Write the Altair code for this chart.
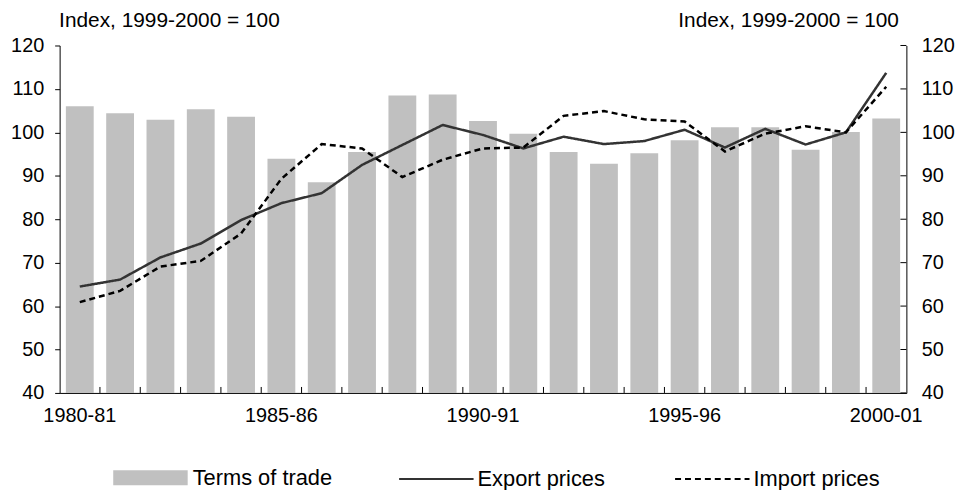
import altair as alt
import pandas as pd

years = ["1980-81", "1981-82", "1982-83", "1983-84", "1984-85", "1985-86", "1986-87",
         "1987-88", "1988-89", "1989-90", "1990-91", "1991-92", "1992-93", "1993-94",
         "1994-95", "1995-96", "1996-97", "1997-98", "1998-99", "1999-00", "2000-01"]
terms_of_trade = [106.0, 104.4, 102.9, 105.3, 103.6, 93.9, 88.5, 95.5, 108.5, 108.7, 102.6,
                  99.7, 95.5, 92.8, 95.2, 98.2, 101.2, 101.2, 96.0, 100.1, 103.2]
export_prices = [64.5, 66.1, 71.2, 74.4, 79.8, 83.7, 86.0, 92.5, 97.1, 101.7, 99.4,
                 96.3, 99.0, 97.3, 98.0, 100.6, 96.5, 100.8, 97.2, 100.0, 113.7]
import_prices = [60.9, 63.5, 69.1, 70.4, 76.7, 89.3, 97.3, 96.3, 89.7, 93.7, 96.3,
                 96.5, 103.8, 104.9, 103.0, 102.5, 95.6, 99.7, 101.4, 100.0, 110.5]
x_labels = ["1980-81", "1985-86", "1990-91", "1995-96", "2000-01"]
y_ticks = [40, 50, 60, 70, 80, 90, 100, 110, 120]
series_names = ["Terms of trade", "Export prices", "Import prices"]

W, H = 853, 350
FONT = "Liberation Sans"
FS = 21
LFS = 22
STEP = W / len(years)
LEG_Y = 398

bars_df = pd.DataFrame({"year": years, "value": terms_of_trade, "bar_series": series_names[0]})
lines_df = pd.concat([
    pd.DataFrame({"year": years, "value": export_prices, "line_series": series_names[1]}),
    pd.DataFrame({"year": years, "value": import_prices, "line_series": series_names[2]}),
])
xtick_df = pd.DataFrame({"year": years[1:]})
ytick_df = pd.DataFrame({"v": y_ticks})

xscale = alt.Scale(domain=years, paddingInner=0.31, paddingOuter=0.155)
ydom = [40, 120]


def yscale():
    return alt.Scale(domain=ydom, nice=False, zero=False)


x_enc = alt.X("year:N", scale=xscale, sort=years, title=None,
              axis=alt.Axis(values=x_labels, ticks=False, tickSize=0, labelAngle=0,
                            labelPadding=13, labelFontSize=FS - 1, labelFont=FONT,
                            labelColor="black", domainColor="black", domainWidth=1,
                            grid=False))

bars = alt.Chart(bars_df).mark_bar().encode(
    x=x_enc,
    y=alt.Y("value:Q", scale=yscale(),
            axis=alt.Axis(values=y_ticks, orient="left", grid=False, tickSize=5,
                          tickColor="black", domainColor="black", labelPadding=11,
                          labelFontSize=FS - 1, labelFont=FONT, labelColor="black",
                          title="Index, 1999-2000 = 100", titleAngle=0, titleAlign="left",
                          titleBaseline="alphabetic", titleX=-1, titleY=-19,
                          titleFont=FONT, titleFontSize=FS, titleFontWeight="normal",
                          titleColor="black")),
    y2=alt.datum(40),
    fill=alt.Fill("bar_series:N", scale=alt.Scale(domain=[series_names[0]], range=["#c0c0c0"]),
                  legend=alt.Legend(orient="none", legendX=54, legendY=LEG_Y, title=None,
                                    symbolType="M-1,-0.2H1V0.2H-1Z", symbolSize=5625,
                                    symbolStrokeWidth=0, labelFontSize=LFS, labelFont=FONT,
                                    labelColor="black", labelOffset=5)),
)

line_legend = alt.Legend(orient="none", legendX=341, legendY=LEG_Y, title=None,
                         direction="horizontal", symbolType="stroke", symbolSize=5625,
                         symbolStrokeWidth=2, labelFontSize=LFS, labelFont=FONT,
                         labelColor="black", labelOffset=3, columnPadding=66)

lines = alt.Chart(lines_df).mark_line(strokeWidth=2.5).encode(
    x=alt.X("year:N", scale=xscale, sort=years),
    y=alt.Y("value:Q", scale=yscale(),
            axis=alt.Axis(values=y_ticks, orient="right", grid=False, ticks=False, tickSize=0,
                          domainColor="black", labelPadding=15, labelFontSize=FS - 1,
                          labelFont=FONT, labelColor="black",
                          title="Index, 1999-2000 = 100", titleAngle=0, titleAlign="right",
                          titleBaseline="alphabetic", titleX=-8, titleY=-19,
                          titleFont=FONT, titleFontSize=FS, titleFontWeight="normal",
                          titleColor="black")),
    stroke=alt.Stroke("line_series:N", scale=alt.Scale(domain=series_names[1:], range=["#333333", "#000000"]),
                      legend=line_legend),
    strokeDash=alt.StrokeDash("line_series:N", scale=alt.Scale(domain=series_names[1:], range=[[1, 0], [6, 4]]),
                              legend=line_legend),
)

xticks = alt.Chart(xtick_df).mark_rule(color="black", strokeWidth=1, xOffset=-STEP / 2).encode(
    x=alt.X("year:N", scale=xscale, sort=years),
    y=alt.value(H),
    y2=alt.value(H - 6),
)

yticks_right = alt.Chart(ytick_df).mark_rule(color="black", strokeWidth=1).encode(
    y=alt.Y("v:Q", scale=yscale(), axis=None),
    x=alt.value(W - 6),
    x2=alt.value(W),
)

chart = alt.layer(bars, lines, xticks, yticks_right).resolve_scale(
    y="independent"
).properties(
    width=W, height=H,
    autosize=alt.AutoSizeParams(type="none"),
    padding={"left": 52, "top": 36, "right": 52, "bottom": 96},
).configure_view(stroke=None)

chart.save("out.html", embed_options={"renderer": "svg", "actions": False})
